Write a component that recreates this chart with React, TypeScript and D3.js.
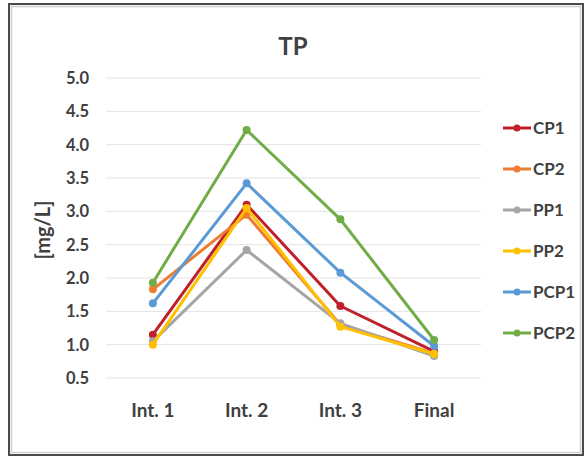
import React from "react";
import * as d3 from "d3";

const categories = ["Int. 1", "Int. 2", "Int. 3", "Final"];
const seriesNames = ["CP1", "CP2", "PP1", "PP2", "PCP1", "PCP2"];
const cp1 = [1.15, 3.1, 1.58, 0.9];
const cp2 = [1.83, 2.95, 1.3, 0.87];
const pp1 = [1.05, 2.42, 1.32, 0.83];
const pp2 = [1.0, 3.05, 1.27, 0.86];
const pcp1 = [1.62, 3.42, 2.08, 0.98];
const pcp2 = [1.93, 4.22, 2.88, 1.07];
const yTicks = [0.5, 1.0, 1.5, 2.0, 2.5, 3.0, 3.5, 4.0, 4.5, 5.0];
const colors = ["#C0202A", "#ED7D31", "#A5A5A5", "#FFC000", "#5B9BD5", "#70AD47"];

const seriesValues = [cp1, cp2, pp1, pp2, pcp1, pcp2];

export default function App() {
  const W = 585, H = 456;
  const x = d3.scalePoint<string>().domain(categories).range([106, 481]).padding(0.5);
  const y = d3.scaleLinear().domain([0.5, 5.0]).range([378, 78]);
  const line = d3.line<number>().x((_, i) => x(categories[i])!).y((d) => y(d));
  const font = "Lato, 'Open Sans', sans-serif";
  const textColor = "#404040";
  const legendY = d3.scalePoint<string>().domain(seriesNames).range([128, 333]);

  return (
    <svg width={W} height={H} style={{ position: "absolute", left: 0, top: 0 }} fontFamily={font}>
      <rect x={0} y={0} width={W} height={H} fill="#fff" />
      <rect x={9} y={4} width={574} height={451} fill="none" stroke="#4a4a4a" strokeWidth={2} />
      <rect x={11.5} y={6.5} width={569} height={446} fill="none" stroke="#d0d0d0" strokeWidth={1.5} />
      <text x={293} y={55} textAnchor="middle" fontSize={24} fontWeight="bold" fill={textColor}>TP</text>
      {yTicks.map((t) => (
        <g key={t}>
          <line x1={106} x2={481} y1={y(t)} y2={y(t)} stroke="#e3e3e3" strokeWidth={1} />
          <text x={89} y={y(t)} dy="0.36em" textAnchor="end" fontSize={16.5} fontWeight="bold" fill={textColor}>
            {t.toFixed(1)}
          </text>
        </g>
      ))}
      {categories.map((c) => (
        <text key={c} x={x(c)} y={417} textAnchor="middle" fontSize={19} fontWeight="bold" fill={textColor}>{c}</text>
      ))}
      <text transform="translate(50,230) rotate(-90)" textAnchor="middle" fontSize={20} fontWeight="bold" fill={textColor}>[mg/L]</text>
      {seriesValues.map((vals, si) => (
        <g key={seriesNames[si]}>
          <path d={line(vals) || ""} fill="none" stroke={colors[si]} strokeWidth={3} strokeLinejoin="round" />
          {vals.map((v, i) => (
            <circle key={i} cx={x(categories[i])} cy={y(v)} r={4} fill={colors[si]} />
          ))}
        </g>
      ))}
      {seriesNames.map((n, si) => (
        <g key={n}>
          <line x1={503} x2={531} y1={legendY(n)} y2={legendY(n)} stroke={colors[si]} strokeWidth={3} />
          <circle cx={517} cy={legendY(n)} r={3.5} fill={colors[si]} />
          <text x={533} y={legendY(n)} dy="0.36em" fontSize={17} fontWeight="bold" fill={textColor}>{n}</text>
        </g>
      ))}
    </svg>
  );
}
